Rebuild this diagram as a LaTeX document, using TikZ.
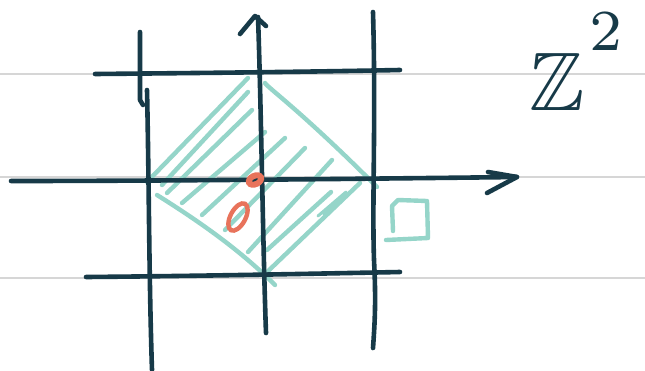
\documentclass[tikz,border=0pt]{standalone}
\usepackage{amssymb}
\definecolor{inkc}{HTML}{173A48}
\definecolor{mint}{HTML}{95D5C9}
\definecolor{coral}{HTML}{E8735B}
\definecolor{rulec}{HTML}{D6D6D6}
\begin{document}
\begin{tikzpicture}[x=1pt,y=-1pt,
  rulel/.style={draw=rulec, line width=1.6pt},
  inkl/.style={draw=inkc, line width=4.6pt, line cap=round, line join=round},
  hatchl/.style={draw=mint, line width=4.4pt, line cap=round, line join=round},
  dotl/.style={draw=coral, line width=4.4pt}]
\useasboundingbox (0,0) rectangle (645,370);
\fill[white] (0,0) rectangle (645,370);
% ruled paper
\draw[rulel] (0,74) -- (645,74);
\draw[rulel] (0,177) -- (645,177);
\draw[rulel] (0,278) -- (645,278);
% teal diamond and hatching
\draw[hatchl] (147,182) -- (248,78);
\draw[hatchl] (265,83) .. controls (268,88) and (300,110) .. (377,187);
\draw[hatchl] (157,195) .. controls (200,222) and (240,250) .. (275,285);
\draw[hatchl] (360,183) -- (265,274);
\draw[hatchl] (162,185) -- (248,92);
\draw[hatchl] (167,193) -- (252,110);
\draw[hatchl] (182,203) -- (265,132);
\draw[hatchl] (202,215) -- (285,138);
\draw[hatchl] (225,230) -- (305,148);
\draw[hatchl] (248,252) -- (332,160);
\draw[hatchl] (267,250) -- (331,192);
\draw[hatchl, line width=3pt] (318,216) -- (346,192) -- (324,214);
% small square
\draw[hatchl] (393,231) -- (392,206) -- (398,200) -- (427,201) -- (428,238) -- (386,240);
% dark grid
\draw[inkl] (95,74) .. controls (200,73) and (300,72) .. (400,70);
\draw[inkl] (11,181) .. controls (150,181) and (350,179) .. (517,177);
\draw[inkl] (488,172) -- (517,177) -- (487,193);
\draw[inkl] (86,277) .. controls (200,276) and (300,274) .. (400,272);
\draw[inkl] (140,32) -- (140,100) -- (143,105);
\draw[inkl] (147,90) .. controls (149,180) and (149,280) .. (152,370);
\draw[inkl] (258,17) .. controls (261,100) and (263,250) .. (266,333);
\draw[inkl] (240,34) -- (255,16) -- (266,26);
\draw[inkl] (373,12) .. controls (376,120) and (372,200) .. (374,260) .. controls (376,300) and (375,320) .. (373,348);
% coral loops
\draw[dotl, line width=6pt] (255,180) ellipse [x radius=6.5, y radius=4.2, rotate=25];
\draw[dotl] (238,217) ellipse [x radius=15, y radius=7.5, rotate=62];
% Z^2
\node[text=inkc, anchor=base west, inner sep=0, scale=8.3] (zz) at (528,110)
  {$\mathbb{Z}$\kern0.6pt\raisebox{7.2pt}{$\scriptstyle 2$}};
\end{tikzpicture}
\end{document}
